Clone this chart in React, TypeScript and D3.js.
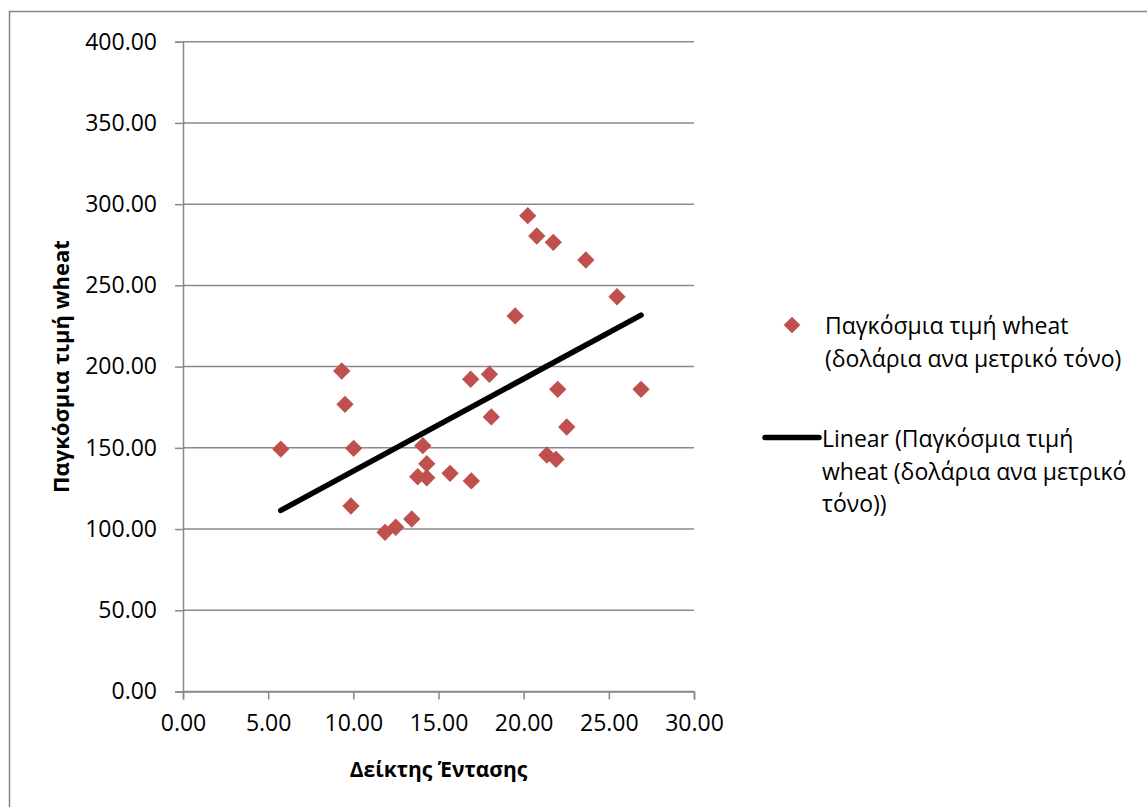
import React, { useEffect, useRef } from 'react'
import * as d3 from 'd3'

// Δείκτης Έντασης (x) vs world wheat price (y)
const intensity = [
  20.24, 20.77, 21.74, 23.65, 25.48, 19.5, 9.32, 16.89, 17.99, 22.0, 26.89, 9.51, 18.1, 22.53,
  5.74, 10.02, 14.08, 14.31, 21.36, 21.9, 13.78, 14.31, 15.68, 16.93, 9.86, 13.43, 12.49, 11.86
]
const wheatPrice = [
  292.9, 280.4, 276.5, 265.6, 243.0, 231.2, 197.3, 192.2, 195.3, 186.0, 186.0, 176.8, 169.0, 162.8,
  149.2, 149.7, 151.3, 140.2, 145.6, 142.9, 132.2, 131.6, 134.3, 129.6, 114.2, 106.2, 101.1, 98.0
]
const xTicks = [0, 5, 10, 15, 20, 25, 30]
const yTicks = [0, 50, 100, 150, 200, 250, 300, 350, 400]

const seriesName = ['Παγκόσμια τιμή wheat', '(δολάρια ανα μετρικό τόνο)']
const trendName = ['Linear (Παγκόσμια τιμή', 'wheat (δολάρια ανα μετρικό', 'τόνο))']
const xTitle = 'Δείκτης Έντασης'
const yTitle = 'Παγκόσμια τιμή wheat'

const W = 1147
const H = 807
const FONT = '"Open Sans", "Noto Sans", sans-serif'
const GRID = '#898989'
const RED = '#C0504D'

export default function App() {
  const ref = useRef<SVGSVGElement>(null)

  useEffect(() => {
    const svg = d3.select(ref.current)
    svg.selectAll('*').remove()

    const x = d3.scaleLinear().domain([0, 30]).range([183, 694])
    const y = d3.scaleLinear().domain([0, 400]).range([691.5, 41.7])

    // outer chart border (clipped at right and bottom like the picture)
    svg.append('rect')
      .attr('x', 9.5).attr('y', 11.5)
      .attr('width', W).attr('height', H)
      .attr('fill', 'white').attr('stroke', '#868686').attr('stroke-width', 1.5)

    // horizontal gridlines
    svg.append('g').selectAll('line').data(yTicks).join('line')
      .attr('x1', x(0)).attr('x2', x(30))
      .attr('y1', d => y(d)).attr('y2', d => y(d))
      .attr('stroke', GRID).attr('stroke-width', 1.5)

    // y axis
    const yAxis = svg.append('g')
      .attr('transform', `translate(${x(0)},0)`)
      .call(d3.axisLeft(y).tickValues(yTicks).tickSize(8).tickPadding(18).tickFormat(d3.format('.2f')))
    // x axis
    const xAxis = svg.append('g')
      .attr('transform', `translate(0,${y(0)})`)
      .call(d3.axisBottom(x).tickValues(xTicks).tickSize(8).tickPadding(15).tickFormat(d3.format('.2f')))

    for (const g of [yAxis, xAxis]) {
      g.select('.domain').attr('stroke', GRID).attr('stroke-width', 1.5)
      g.selectAll('.tick line').attr('stroke', GRID).attr('stroke-width', 1.5)
      g.selectAll('.tick text')
        .attr('fill', '#000').style('font-family', FONT).style('font-size', '23px')
    }

    // trend line (least squares)
    const mx = d3.mean(intensity) as number
    const my = d3.mean(wheatPrice) as number
    let sxy = 0
    let sxx = 0
    intensity.forEach((v, i) => {
      sxy += (v - mx) * (wheatPrice[i] - my)
      sxx += (v - mx) * (v - mx)
    })
    const slope = sxy / sxx
    const icpt = my - slope * mx
    const [x0, x1] = d3.extent(intensity) as [number, number]
    svg.append('line')
      .attr('x1', x(x0)).attr('y1', y(icpt + slope * x0))
      .attr('x2', x(x1)).attr('y2', y(icpt + slope * x1))
      .attr('stroke', '#000').attr('stroke-width', 5.5).attr('stroke-linecap', 'round')

    // diamonds
    const diamond = d3.symbol().type(d3.symbolSquare).size(150)
    svg.append('g').selectAll('path').data(intensity).join('path')
      .attr('d', diamond)
      .attr('transform', (d, i) => `translate(${x(d)},${y(wheatPrice[i])}) rotate(45)`)
      .attr('fill', RED)

    // axis titles
    svg.append('text')
      .attr('x', (x(0) + x(30)) / 2).attr('y', 777)
      .attr('text-anchor', 'middle')
      .style('font-family', FONT).style('font-size', '21px').style('font-weight', 'bold')
      .text(xTitle)
    svg.append('text')
      .attr('transform', `translate(69,${(y(0) + y(400)) / 2}) rotate(-90)`)
      .attr('text-anchor', 'middle')
      .style('font-family', FONT).style('font-size', '22px').style('font-weight', 'bold')
      .text(yTitle)

    // legend
    const leg = svg.append('g')
    leg.append('path').attr('d', d3.symbol().type(d3.symbolSquare).size(140))
      .attr('transform', 'translate(792,325) rotate(45)').attr('fill', RED)
    seriesName.forEach((t, i) => {
      leg.append('text').attr('x', 825).attr('y', 334 + i * 33)
        .style('font-family', FONT).style('font-size', '23px').text(t)
    })
    leg.append('line').attr('x1', 765).attr('x2', 819).attr('y1', 437.5).attr('y2', 437.5)
      .attr('stroke', '#000').attr('stroke-width', 5.5).attr('stroke-linecap', 'round')
    trendName.forEach((t, i) => {
      leg.append('text').attr('x', 822).attr('y', 447 + i * 32.5)
        .style('font-family', FONT).style('font-size', '23px').text(t)
    })
  }, [])

  return (
    <svg
      ref={ref}
      width={W}
      height={H}
      style={{ position: 'absolute', left: 0, top: 0, background: 'white' }}
    />
  )
}
